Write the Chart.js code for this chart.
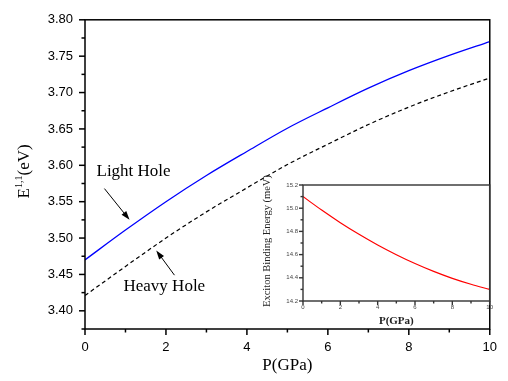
<!DOCTYPE html>
<html>
<head>
<meta charset="utf-8">
<script src="https://cdn.jsdelivr.net/npm/chart.js@4.4.1/dist/chart.umd.min.js"></script>
<style>
  body { margin: 0; background: #fff; }
  #wrap { position: relative; width: 508px; height: 381px; }
  #inset { position: absolute; left: 256px; top: 168px; }
</style>
</head>
<body>
<div id="wrap">
  <canvas id="mainChart" width="508" height="381"></canvas>
  <canvas id="inset" width="240" height="162"></canvas>
</div>
<script>
// datos
const pressure = [0, 1, 2, 3, 4, 5, 6, 7, 8, 9, 10];
const lightHole = [3.470, 3.511, 3.550, 3.586, 3.619, 3.651, 3.679, 3.706, 3.730, 3.751, 3.770];
const heavyHole = [3.421, 3.461, 3.500, 3.536, 3.569, 3.601, 3.629, 3.656, 3.680, 3.701, 3.720];
const bindingEnergy = [15.100, 14.984, 14.875, 14.775, 14.683, 14.599, 14.523, 14.455, 14.395, 14.344, 14.300];
const xTickLabels = ['0', '2', '4', '6', '8', '10'];
const yTickLabels = ['3.40', '3.45', '3.50', '3.55', '3.60', '3.65', '3.70', '3.75', '3.80'];
const insetYTickLabels = ['14.2', '14.4', '14.6', '14.8', '15.0', '15.2'];

const SERIF = '"Liberation Serif", "Times New Roman", serif';
const SANS = '"Liberation Sans", Arial, sans-serif';

const toPoints = (ys) => pressure.map((p, i) => ({ x: p, y: ys[i] }));

// marcas de eje (mayores y menores) y marco del grafico
const frameTicks = {
  id: 'frameTicks',
  afterDraw(chart, args, o) {
    const { ctx, chartArea: a } = chart;
    const xs = chart.scales.x, ys = chart.scales.y;
    ctx.save();
    ctx.strokeStyle = o.color;
    ctx.lineWidth = o.width;
    ctx.strokeRect(a.left, a.top, a.right - a.left, a.bottom - a.top);
    const isMajor = (v, step) => Math.abs(v / step - Math.round(v / step)) < 1e-6;
    let start = Math.ceil(xs.min / o.xMinor - 1e-6) * o.xMinor;
    for (let v = start; v <= xs.max + 1e-9; v += o.xMinor) {
      const px = xs.getPixelForValue(v);
      ctx.beginPath();
      ctx.moveTo(px, a.bottom);
      ctx.lineTo(px, a.bottom + (isMajor(v, o.xMajor) ? o.major : o.minor));
      ctx.stroke();
    }
    start = Math.ceil(ys.min / o.yMinor - 1e-6) * o.yMinor;
    for (let v = start; v <= ys.max + 1e-9; v += o.yMinor) {
      const py = ys.getPixelForValue(v);
      ctx.beginPath();
      ctx.moveTo(a.left, py);
      ctx.lineTo(a.left - (isMajor(v, o.yMajor) ? o.major : o.minor), py);
      ctx.stroke();
    }
    ctx.restore();
  }
};

// titulos de los ejes
const axisTitles = {
  id: 'axisTitles',
  afterDraw(chart, args, o) {
    const { ctx, chartArea: a } = chart;
    ctx.save();
    ctx.fillStyle = o.color;
    ctx.textAlign = 'center';
    ctx.textBaseline = 'middle';
    ctx.font = o.xFont;
    ctx.fillText(o.xText, (a.left + a.right) / 2, a.bottom + o.xOffset);
    ctx.translate(o.yX, (a.top + a.bottom) / 2 + o.yShift);
    ctx.rotate(-Math.PI / 2);
    if (o.ySup) {
      ctx.textAlign = 'left';
      ctx.font = o.yFont;
      const w1 = ctx.measureText(o.yText[0]).width;
      const w3 = ctx.measureText(o.yText[2]).width;
      ctx.font = o.supFont;
      const w2 = ctx.measureText(o.yText[1]).width;
      let x = -(w1 + w2 + w3) / 2;
      ctx.font = o.yFont;
      ctx.fillText(o.yText[0], x, 0);
      x += w1;
      ctx.font = o.supFont;
      ctx.fillText(o.yText[1], x, -6);
      x += w2;
      ctx.font = o.yFont;
      ctx.fillText(o.yText[2], x, 0);
    } else {
      ctx.font = o.yFont;
      ctx.fillText(o.yText, 0, 0);
    }
    ctx.restore();
  }
};

// etiquetas con flecha, en coordenadas de datos
const holeNotes = [
  { text: 'Light Hole', at: [1.20, 3.591], from: [0.48, 3.568], to: [1.10, 3.525] },
  { text: 'Heavy Hole', at: [1.96, 3.433], from: [2.21, 3.449], to: [1.76, 3.483] }
];

const arrowNotes = {
  id: 'arrowNotes',
  afterDraw(chart) {
    const { ctx } = chart;
    const xs = chart.scales.x, ys = chart.scales.y;
    const px = (p) => [xs.getPixelForValue(p[0]), ys.getPixelForValue(p[1])];
    ctx.save();
    ctx.fillStyle = '#000';
    ctx.strokeStyle = '#000';
    ctx.lineWidth = 1;
    ctx.font = '17px ' + SERIF;
    ctx.textAlign = 'center';
    ctx.textBaseline = 'middle';
    holeNotes.forEach(n => {
      const [tx, ty] = px(n.at);
      ctx.fillText(n.text, tx, ty);
      const [x0, y0] = px(n.from);
      const [x1, y1] = px(n.to);
      const ang = Math.atan2(y1 - y0, x1 - x0);
      ctx.beginPath();
      ctx.moveTo(x0, y0);
      ctx.lineTo(x1 - 6 * Math.cos(ang), y1 - 6 * Math.sin(ang));
      ctx.stroke();
      ctx.beginPath();
      ctx.moveTo(x1, y1);
      ctx.lineTo(x1 - 9 * Math.cos(ang) + 3 * Math.sin(ang), y1 - 9 * Math.sin(ang) - 3 * Math.cos(ang));
      ctx.lineTo(x1 - 9 * Math.cos(ang) - 3 * Math.sin(ang), y1 - 9 * Math.sin(ang) + 3 * Math.cos(ang));
      ctx.closePath();
      ctx.fill();
    });
    ctx.restore();
  }
};

new Chart(document.getElementById('mainChart'), {
  type: 'line',
  data: {
    datasets: [
      {
        label: 'Light Hole',
        data: toPoints(lightHole),
        borderColor: '#0000ff',
        borderWidth: 1.3,
        pointRadius: 0,
        cubicInterpolationMode: 'monotone'
      },
      {
        label: 'Heavy Hole',
        data: toPoints(heavyHole),
        borderColor: '#000',
        borderWidth: 1.2,
        borderDash: [4, 3],
        pointRadius: 0,
        cubicInterpolationMode: 'monotone'
      }
    ]
  },
  options: {
    responsive: false,
    animation: false,
    devicePixelRatio: 1,
    layout: { padding: { top: 13, right: 8, left: 0, bottom: 0 } },
    plugins: {
      legend: { display: false },
      tooltip: { enabled: false },
      frameTicks: { color: '#000', width: 1.5, xMinor: 1, xMajor: 2, yMinor: 0.025, yMajor: 0.05, major: 6, minor: 3.5 },
      axisTitles: {
        color: '#000', xText: 'P(GPa)', xFont: '17px ' + SERIF, xOffset: 37,
        yText: ['E', '1,1', '(eV)'], ySup: true, yFont: '17px ' + SERIF, supFont: '10px ' + SERIF,
        yX: 25, yShift: -3
      }
    },
    scales: {
      x: {
        type: 'linear',
        min: 0,
        max: 10,
        grid: { display: false, drawTicks: false },
        border: { display: false },
        afterFit: (s) => { s.height = 52; },
        ticks: {
          stepSize: 2,
          padding: 11,
          color: '#000',
          font: { family: SANS, size: 13 },
          callback: (v) => xTickLabels.includes(String(v)) ? String(v) : ''
        }
      },
      y: {
        min: 3.375,
        max: 3.80,
        grid: { display: false, drawTicks: false },
        border: { display: false },
        afterFit: (s) => { s.width = 85; },
        ticks: {
          stepSize: 0.05,
          includeBounds: false,
          padding: 12,
          color: '#000',
          font: { family: SANS, size: 13 },
          callback: (v) => {
            const t = Number(v).toFixed(2);
            return yTickLabels.includes(t) ? t : '';
          }
        }
      }
    }
  },
  plugins: [frameTicks, axisTitles, arrowNotes]
});

new Chart(document.getElementById('inset'), {
  type: 'line',
  data: {
    datasets: [{
      label: 'Exciton Binding Energy',
      data: toPoints(bindingEnergy),
      borderColor: '#ff0000',
      borderWidth: 1.2,
      pointRadius: 0,
      cubicInterpolationMode: 'monotone'
    }]
  },
  options: {
    responsive: false,
    animation: false,
    devicePixelRatio: 1,
    layout: { padding: { top: 17, right: 6, left: 0, bottom: 0 } },
    plugins: {
      legend: { display: false },
      tooltip: { enabled: false },
      frameTicks: { color: '#333', width: 1.4, xMinor: 1, xMajor: 2, yMinor: 0.1, yMajor: 0.2, major: 4, minor: 2.5 },
      axisTitles: {
        color: '#222', xText: 'P(GPa)', xFont: 'bold 11px ' + SERIF, xOffset: 20,
        yText: 'Exciton Binding Energy (meV)', ySup: false, yFont: '10.5px ' + SERIF,
        yX: 11, yShift: -2
      }
    },
    scales: {
      x: {
        type: 'linear',
        min: 0,
        max: 10,
        grid: { display: false, drawTicks: false },
        border: { display: false },
        afterFit: (s) => { s.height = 29; },
        ticks: {
          stepSize: 2,
          padding: 3,
          color: '#444',
          font: { family: SANS, size: 6 },
          callback: (v) => String(v)
        }
      },
      y: {
        min: 14.2,
        max: 15.2,
        grid: { display: false, drawTicks: false },
        border: { display: false },
        afterFit: (s) => { s.width = 47; },
        ticks: {
          stepSize: 0.2,
          padding: 5,
          color: '#444',
          font: { family: SANS, size: 6 },
          callback: (v) => {
            const t = Number(v).toFixed(1);
            return insetYTickLabels.includes(t) ? t : '';
          }
        }
      }
    }
  },
  plugins: [frameTicks, axisTitles]
});
</script>
</body>
</html>
